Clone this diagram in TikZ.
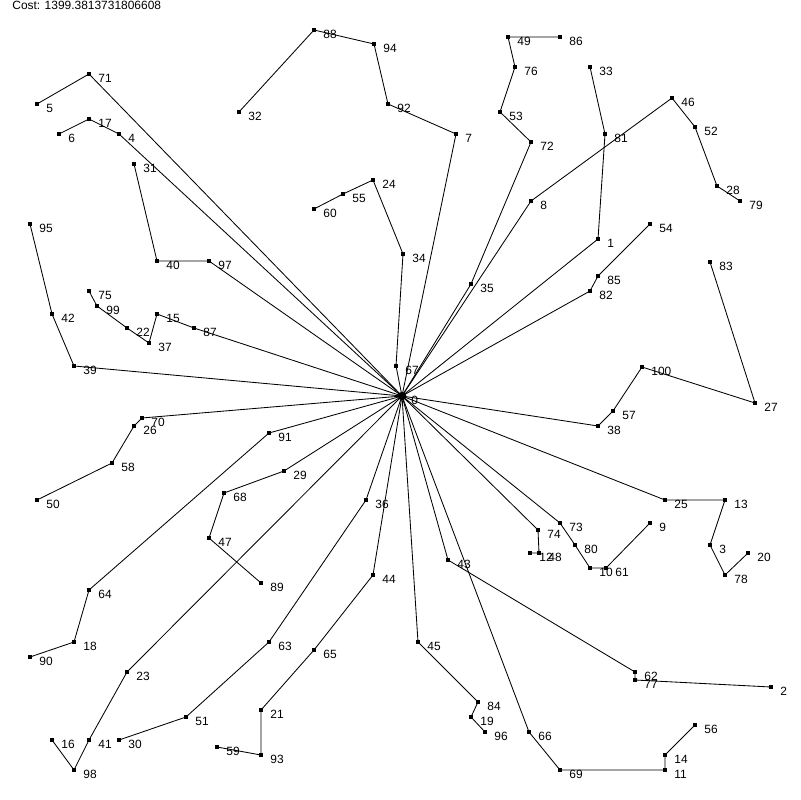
\documentclass[tikz,border=0pt]{standalone}
\usepackage{fontspec}
\setmainfont{Liberation Sans}

\begin{document}
\begin{tikzpicture}[x=0.025cm, y=-0.025cm, line width=0.6pt,
    dot/.style={rectangle, fill=black, inner sep=0pt, minimum size=2.4pt},
    depot/.style={circle, fill=black, inner sep=0pt, minimum size=6pt},
    lbl/.style={anchor=base west, inner sep=0pt, font=\fontsize{8.5}{10}\selectfont}]
    \useasboundingbox (0,0) rectangle (800,800);

    % Tiêu đề
    \node[lbl] (cost) at (12,10) {Cost: 1399.3813731806608};

    % Kho
    \node[depot] (n0) at (402,396) {};
    \node[lbl] (l0) at (411,404) {0};

    % Khách hàng
    \foreach \i/\x/\y in {1/598/239, 2/771/687, 3/710/545, 4/119/134, 5/37/104,
        6/59/134, 7/456/134, 8/531/201, 9/650/523, 10/590/568, 11/665/770,
        12/530/553, 13/725/500, 14/665/755, 15/157/314, 16/52/740, 17/89/119,
        18/74/642, 19/471/717, 20/748/553, 21/261/710, 22/127/328, 23/127/672,
        24/373/180, 25/665/500, 26/134/426, 27/755/403, 28/717/186, 29/284/471,
        30/119/740, 31/134/164, 32/239/112, 33/590/67, 34/403/254, 35/471/284,
        36/366/500, 37/149/343, 38/598/426, 39/74/366, 40/157/261, 41/89/740,
        42/52/314, 43/448/560, 44/373/575, 45/418/642, 46/672/98, 47/209/538,
        48/539/553, 49/508/37, 50/37/500, 51/186/717, 52/695/127, 53/500/112,
        54/650/224, 55/343/194, 56/695/725, 57/613/411, 58/112/463, 59/217/747,
        60/314/209, 61/606/568, 62/635/672, 63/269/642, 64/89/590, 65/314/650,
        66/529/732, 67/396/366, 68/224/493, 69/560/770, 70/142/418, 71/89/74,
        72/531/142, 73/560/523, 74/538/530, 75/89/291, 76/515/67, 77/635/680,
        78/725/575, 79/740/201, 80/575/545, 81/605/134, 82/590/291, 83/710/262,
        84/478/702, 85/598/276, 86/560/37, 87/194/328, 88/314/30, 89/261/583,
        90/30/657, 91/269/433, 92/388/104, 93/261/755, 94/374/44, 95/30/224,
        96/485/732, 97/209/261, 98/74/770, 99/97/306, 100/642/367} {
        \node[dot] (n\i) at (\x,\y) {};
        \node[lbl] (l\i) at (\x+9,\y+8.5) {\i};
    }

    % Các tuyến xe
    \foreach \route in {{71,5}, {4,17,6}, {97,40,31}, {87,15,37,22,99,75},
        {39,42,95}, {70,26,58,50}, {91,64,18,90}, {29,68,47,89}, {23,41,98,16},
        {36,63,51,30}, {44,65,21,93,59}, {45,84,19,96}, {43,62,77,2},
        {66,69,11,14,56}, {74,48,12}, {73,80,10,61,9}, {25,13,3,78,20},
        {38,57,100,27,83}, {82,85,54}, {1,81,33}, {8,46,52,28,79},
        {35,72,53,76,49,86}, {7,92,94,88,32}, {67,34,24,55,60}} {
        \draw (n0.center) \foreach \j in \route {-- (n\j.center)};
    }
\end{tikzpicture}
\end{document}
